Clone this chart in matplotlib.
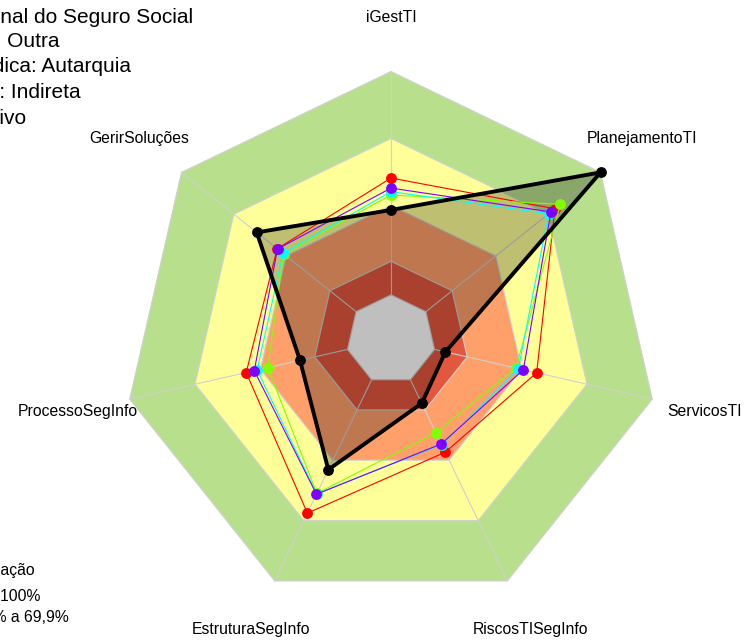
import numpy as np
import matplotlib
matplotlib.use("Agg")
import matplotlib.pyplot as plt

plt.rcParams['font.family'] = ['Liberation Sans', 'DejaVu Sans']

# eixos do radar (sentido horário a partir do topo)
eixos = ["iGestTI", "PlanejamentoTI", "ServicosTI", "RiscosTISegInfo",
         "EstruturaSegInfo", "ProcessoSegInfo", "GerirSoluções"]

# faixas de classificação (limite superior) e cores
faixas = [1.0, 0.70, 0.40, 0.15, 0.0]
cores_faixas = ["#B8E08C", "#FFFF99", "#FFA06B", "#E2573E", "#FFFFFF"]

# organização avaliada
orgao = [0.38, 1.00, 0.05, 0.117, 0.447, 0.218, 0.569]

# referências (rainbow(4))
ref_vermelho = [0.523, 0.739, 0.469, 0.360, 0.663, 0.465, 0.452]
ref_verde = [0.447, 0.770, 0.374, 0.263, 0.565, 0.366, 0.415]
ref_ciano = [0.462, 0.703, 0.385, 0.322, 0.567, 0.415, 0.418]
ref_roxo = [0.478, 0.716, 0.408, 0.319, 0.569, 0.428, 0.450]
referencias = [ref_vermelho, ref_verde, ref_ciano, ref_roxo]
cores_ref = ["#FF0000", "#80FF00", "#00FFFF", "#8000FF"]

info = ["Órgão: Instituto Nacional do Seguro Social",
        "Segmento: Outra",
        "Natureza Jurídica: Autarquia",
        "Administração: Indireta",
        "Poder: Executivo"]
info_fim = [193, 59, 131, 81, 26]
legenda = ["Classificação",
           "Aprimorado: 70% a 100%",
           "Intermediário: 40% a 69,9%"]
legenda_fim = [35, 40, 69]
legenda_y = [571, 597, 618]

W, H = 744, 641
fig = plt.figure(figsize=(W / 100, H / 100), dpi=100)
cx, cy, R = 391, H - 339.5, 268
ax = fig.add_axes([(cx - R) / W, (cy - R) / H, 2 * R / W, 2 * R / H], projection='polar')
ax.set_theta_offset(np.pi / 2)
ax.set_theta_direction(-1)
ax.set_ylim(0, 1)
ax.set_rorigin(-0.2)
ax.axis('off')

n = len(eixos)
theta = np.arange(n) * 2 * np.pi / n
tt = np.append(theta, theta[0])

def fechar(v):
    return np.append(v, v[0])

for lim, cor in zip(faixas, cores_faixas):
    ax.fill(tt, [lim] * (n + 1), color=cor, ec='#D0D0D0', lw=0.8, zorder=1, clip_on=False)

for t in theta:
    ax.plot([t, t], [0, 1], color='#D0D0D0', lw=0.8, zorder=2, clip_on=False)

ax.fill(tt, fechar(orgao), color='black', alpha=0.25, lw=0, zorder=3, clip_on=False)

for vals, cor in zip(referencias, cores_ref):
    ax.plot(tt, fechar(vals), color=cor, lw=0.8, zorder=4, clip_on=False)
    ax.plot(theta, vals, 'o', color=cor, ms=7.8, mew=0, zorder=4, clip_on=False)

ax.plot(tt, fechar(orgao), color='black', lw=2.8, zorder=5, clip_on=False)
ax.plot(theta, orgao, 'o', color='black', ms=7.8, mew=0, zorder=5, clip_on=False)

for t, nome in zip(theta, eixos):
    ax.text(t, 1.24, nome, ha='center', va='center', fontsize=11.3)

for i, (s, x) in enumerate(zip(info, info_fim)):
    fig.text(x / W, 1 - (16 + 25.5 * i) / H, s, ha='right', va='center', fontsize=15)

for s, x, y in zip(legenda, legenda_fim, legenda_y):
    fig.text(x / W, 1 - y / H, s, ha='right', va='center', fontsize=11.3)

fig.savefig("out.png", dpi=100)
